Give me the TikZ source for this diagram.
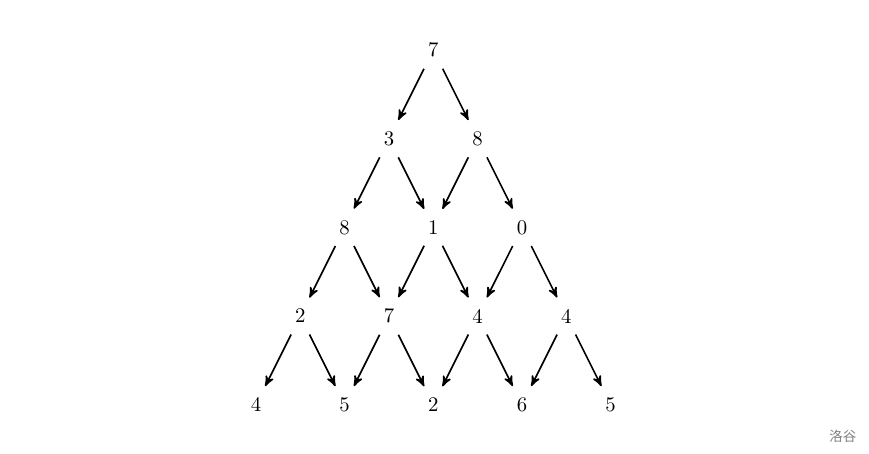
\documentclass[tikz,border=0pt]{standalone}
\usepackage{fontspec}
\newfontfamily\cjk{Noto Sans CJK SC}
\usetikzlibrary{positioning, arrows}

\begin{document}
\begin{tikzpicture}[->,>=stealth',shorten >=2pt,shorten <=2pt,thick,auto]
  \useasboundingbox (-7.33,0.846) rectangle (7.37,-6.83);
  % row 1
  \node (r1c1) at (0,0) {7};
  % row 2
  \node (r2c1) at (-0.75,-1.5) {3};
  \node (r2c2) at (0.75,-1.5) {8};
  % row 3
  \node (r3c1) at (-1.5,-3) {8};
  \node (r3c2) at (0,-3) {1};
  \node (r3c3) at (1.5,-3) {0};
  % row 4
  \node (r4c1) at (-2.25,-4.5) {2};
  \node (r4c2) at (-0.75,-4.5) {7};
  \node (r4c3) at (0.75,-4.5) {4};
  \node (r4c4) at (2.25,-4.5) {4};
  % row 5
  \node (r5c1) at (-3,-6) {4};
  \node (r5c2) at (-1.5,-6) {5};
  \node (r5c3) at (0,-6) {2};
  \node (r5c4) at (1.5,-6) {6};
  \node (r5c5) at (3,-6) {5};

  \path
   (r1c1) edge (r2c1)
   (r1c1) edge (r2c2)
   (r2c1) edge (r3c1)
   (r2c1) edge (r3c2)
   (r2c2) edge (r3c2)
   (r2c2) edge (r3c3)
   (r3c1) edge (r4c1)
   (r3c1) edge (r4c2)
   (r3c2) edge (r4c2)
   (r3c2) edge (r4c3)
   (r3c3) edge (r4c3)
   (r3c3) edge (r4c4)
   (r4c1) edge (r5c1)
   (r4c1) edge (r5c2)
   (r4c2) edge (r5c2)
   (r4c2) edge (r5c3)
   (r4c3) edge (r5c3)
   (r4c3) edge (r5c4)
   (r4c4) edge (r5c4)
   (r4c4) edge (r5c5);

  \node[text=gray, font=\cjk\fontsize{6.5}{7}\selectfont] (logo) at (6.93,-6.54) {洛谷};
\end{tikzpicture}
\end{document}
